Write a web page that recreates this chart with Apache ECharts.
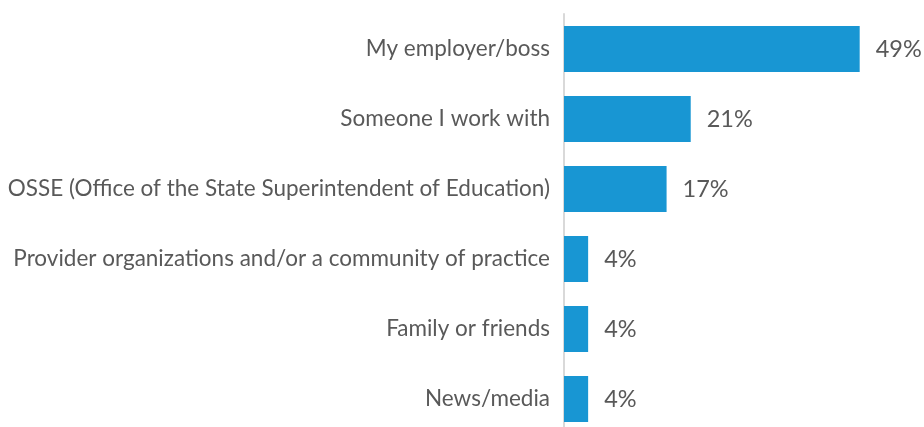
<!DOCTYPE html>
<html>
<head>
<meta charset="utf-8">
<script src="https://cdn.jsdelivr.net/npm/echarts@6/dist/echarts.min.js"></script>
<style>
  html, body { margin: 0; padding: 0; background: #fff; overflow: hidden; }
  /* the last row's band runs a few pixels past the bottom edge */
  #chart { width: 924px; height: 434px; }
</style>
</head>
<body>
<div id="chart"></div>
<script>
// Sources of information, top to bottom
const categories = [
  'My employer/boss',
  'Someone I work with',
  'OSSE (Office of the State Superintendent of Education)',
  'Provider organizations and/or a community of practice',
  'Family or friends',
  'News/media'
];
const shares = [49, 21, 17, 4, 4, 4];

const chart = echarts.init(document.getElementById('chart'), null, { renderer: 'canvas' });

chart.setOption({
  animation: false,
  grid: { left: 564, top: 14, bottom: 0, width: 350, containLabel: false },
  xAxis: {
    type: 'value',
    min: 0,
    max: 58,
    show: false
  },
  yAxis: {
    type: 'category',
    inverse: true,
    data: categories,
    axisLine: { show: true, lineStyle: { color: '#d9d9d9', width: 2 } },
    axisTick: { show: false },
    axisLabel: {
      margin: 14,
      fontFamily: 'Lato',
      fontSize: 22.5,
      color: '#595959'
    }
  },
  series: [{
    type: 'bar',
    data: shares,
    barCategoryGap: '34%',
    itemStyle: { color: '#1896d3' },
    label: {
      show: true,
      position: 'right',
      distance: 16,
      formatter: '{c}%',
      fontFamily: 'Lato',
      fontSize: 23.5,
      color: '#595959'
    }
  }]
});
</script>
</body>
</html>
